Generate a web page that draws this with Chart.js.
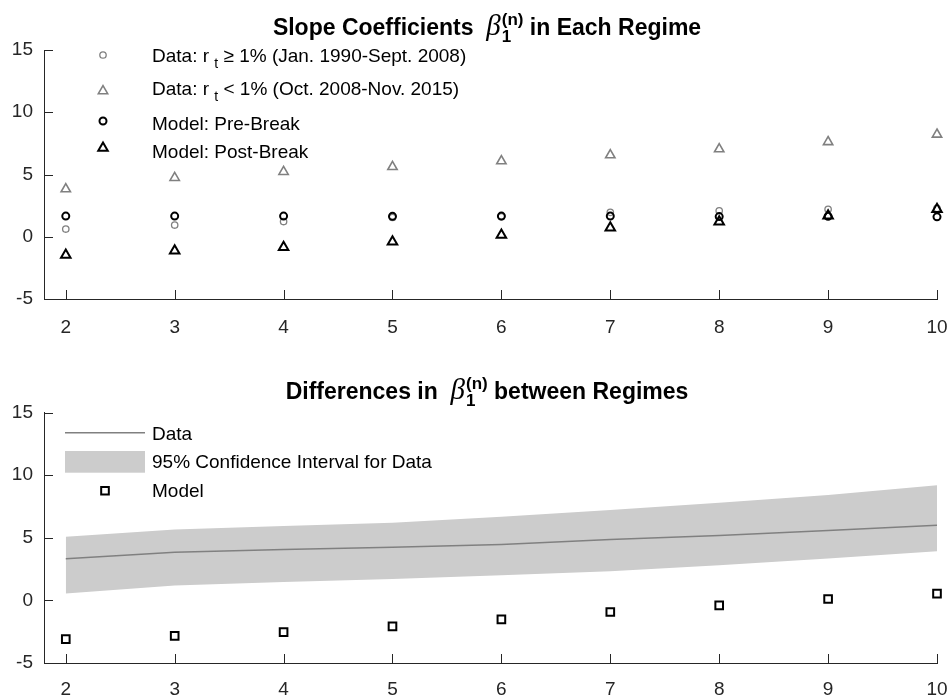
<!DOCTYPE html>
<html>
<head>
<meta charset="utf-8">
<script src="https://cdn.jsdelivr.net/npm/chart.js@4.4.1/dist/chart.umd.min.js"></script>
<style>
  html, body { margin: 0; padding: 0; background: #ffffff; }
  .panel { position: absolute; left: 0; width: 949px; height: 348px; }
</style>
</head>
<body>
<div class="panel" style="top:0"><canvas id="slopes" width="949" height="348"></canvas></div>
<div class="panel" style="top:348px"><canvas id="diffs" width="949" height="348"></canvas></div>
<script>
// Maturity n (years) on the x axis
const maturities = [2, 3, 4, 5, 6, 7, 8, 9, 10];
const xTickLabels = ['2', '3', '4', '5', '6', '7', '8', '9', '10'];
const yTickValues = [-5, 0, 5, 10, 15];
const yTickLabels = ['-5', '0', '5', '10', '15'];

// Slope coefficients by regime
const dataPreBreak   = [0.62, 0.94, 1.22, 1.55, 1.60, 1.96, 2.09, 2.20, 2.28];
const dataPostBreak  = [3.83, 4.74, 5.22, 5.62, 6.08, 6.56, 7.04, 7.62, 8.22];
const modelPreBreak  = [1.66, 1.66, 1.66, 1.64, 1.66, 1.66, 1.62, 1.64, 1.60];
const modelPostBreak = [-1.47, -1.12, -0.85, -0.40, 0.14, 0.72, 1.20, 1.69, 2.20];

// Differences between regimes
const diffData    = [3.32, 3.85, 4.06, 4.25, 4.47, 4.86, 5.18, 5.58, 6.00];
const diffCiLower = [0.54, 1.18, 1.47, 1.71, 2.00, 2.32, 2.80, 3.34, 3.93];
const diffCiUpper = [5.08, 5.66, 5.93, 6.20, 6.68, 7.21, 7.80, 8.41, 9.19];
const diffModel   = [-3.09, -2.83, -2.53, -2.08, -1.52, -0.93, -0.40, 0.11, 0.54];

const AXIS = '#262626';
const GRAY = '#808080';
const FONT = '"Liberation Sans", Arial, Helvetica, sans-serif';
const SERIF = '"Liberation Serif", "Times New Roman", serif';
const TEXT_SIZE = 19;

const pts = ys => maturities.map((x, i) => ({ x: x, y: ys[i] }));

// marker styles shared by the plot and the legend
const styles = {
  dataPre:   { pointStyle: 'circle',   radius: 3.2, color: GRAY,  width: 1.3 },
  dataPost:  { pointStyle: 'triangle', radius: 5.4, color: GRAY,  width: 1.6 },
  modelPre:  { pointStyle: 'circle',   radius: 3.5, color: '#000', width: 2 },
  modelPost: { pointStyle: 'triangle', radius: 5.5, color: '#000', width: 2 },
  modelDiff: { pointStyle: 'rect',     radius: 5.4, color: '#000', width: 2 }
};

function markerSet(label, ys, st, order) {
  return {
    label: label, data: pts(ys), showLine: false, order: order, clip: false,
    pointStyle: st.pointStyle, pointRadius: st.radius, pointBorderColor: st.color,
    pointBackgroundColor: 'rgba(0,0,0,0)', pointBorderWidth: st.width,
    borderColor: st.color, backgroundColor: 'rgba(0,0,0,0)'
  };
}

function drawMarker(ctx, st, x, y) {
  ctx.save();
  ctx.strokeStyle = st.color;
  ctx.lineWidth = st.width;
  ctx.beginPath();
  const r = st.radius;
  if (st.pointStyle === 'circle') {
    ctx.arc(x, y, r, 0, Math.PI * 2);
  } else if (st.pointStyle === 'triangle') {
    for (let k = 0; k < 3; k++) {
      const a = k * 2 * Math.PI / 3;
      const px = x + Math.sin(a) * r, py = y - Math.cos(a) * r;
      if (k === 0) ctx.moveTo(px, py); else ctx.lineTo(px, py);
    }
    ctx.closePath();
  } else {
    const s = r * Math.SQRT1_2;
    ctx.rect(x - s, y - s, 2 * s, 2 * s);
  }
  ctx.stroke();
  ctx.restore();
}

// Title with an italic beta carrying superscript (n) and subscript 1
function drawTitle(ctx, cx, baseline, lead, tail) {
  const fMain = 'bold 23px ' + FONT;
  const fBeta = 'italic 29px ' + SERIF;
  const fScript = 'bold 17px ' + FONT;
  ctx.save();
  ctx.fillStyle = '#000';
  ctx.textBaseline = 'alphabetic';
  ctx.textAlign = 'left';
  ctx.font = fMain;
  const wLead = ctx.measureText(lead).width;
  const wTail = ctx.measureText(tail).width;
  ctx.font = fBeta;
  const wBeta = ctx.measureText('\u03B2').width;
  ctx.font = fScript;
  const wSup = ctx.measureText('(n)').width;
  const total = wLead + wBeta + 1 + wSup + wTail;
  let x = cx - total / 2;
  ctx.font = fMain; ctx.fillText(lead, x, baseline); x += wLead;
  ctx.font = fBeta; ctx.fillText('\u03B2', x, baseline); x += wBeta + 1;
  ctx.font = fScript;
  ctx.fillText('(n)', x, baseline - 10);
  ctx.fillText('1', x, baseline + 7);
  x += wSup;
  ctx.font = fMain; ctx.fillText(tail, x, baseline);
  ctx.restore();
}

// Legend text with a subscripted t after r
function drawSubText(ctx, x, y, before, sub, after) {
  const f = TEXT_SIZE + 'px ' + FONT, fs = '14px ' + FONT;
  ctx.save();
  ctx.fillStyle = '#000';
  ctx.textBaseline = 'middle';
  ctx.textAlign = 'left';
  ctx.font = f; ctx.fillText(before, x, y); x += ctx.measureText(before).width;
  ctx.font = fs; ctx.fillText(sub, x, y + 7); x += ctx.measureText(sub).width;
  ctx.font = f; ctx.fillText(after, x, y);
  ctx.restore();
}

function drawText(ctx, x, y, text) {
  ctx.save();
  ctx.fillStyle = '#000';
  ctx.textBaseline = 'middle';
  ctx.textAlign = 'left';
  ctx.font = TEXT_SIZE + 'px ' + FONT;
  ctx.fillText(text, x, y);
  ctx.restore();
}

// Inward tick marks on both axes
const innerTicks = {
  id: 'innerTicks',
  afterDatasetsDraw(chart) {
    const ctx = chart.ctx, a = chart.chartArea;
    const xs = chart.scales.x, ys = chart.scales.y;
    ctx.save();
    ctx.strokeStyle = AXIS;
    ctx.lineWidth = 1;
    ctx.beginPath();
    xs.ticks.forEach(t => {
      const px = Math.round(xs.getPixelForValue(t.value)) + 0.5;
      ctx.moveTo(px, a.bottom); ctx.lineTo(px, a.bottom - 9);
    });
    ys.ticks.forEach(t => {
      const py = Math.round(ys.getPixelForValue(t.value)) + 0.5;
      ctx.moveTo(a.left, py); ctx.lineTo(a.left + 9, py);
    });
    ctx.stroke();
    ctx.restore();
  }
};

function axes(xHeight, xPad) {
  return {
    x: {
      type: 'linear', min: 1.8, max: 10,
      afterBuildTicks: s => { s.ticks = maturities.map(v => ({ value: v })); },
      afterFit: s => { s.height = xHeight; s.paddingLeft = 0; s.paddingRight = 0; },
      ticks: {
        callback: (v, i) => xTickLabels[i], color: AXIS, padding: xPad,
        font: { family: FONT, size: TEXT_SIZE }, maxRotation: 0, autoSkip: false
      },
      grid: { display: true, drawOnChartArea: false, drawTicks: false },
      border: { display: true, color: AXIS, width: 1 }
    },
    y: {
      type: 'linear', min: -5, max: 15,
      afterBuildTicks: s => { s.ticks = yTickValues.map(v => ({ value: v })); },
      afterFit: s => { s.width = 44; s.paddingTop = 0; s.paddingBottom = 0; },
      ticks: {
        callback: (v, i) => yTickLabels[i], color: AXIS, padding: 11,
        font: { family: FONT, size: TEXT_SIZE }
      },
      grid: { display: true, drawOnChartArea: false, drawTicks: false },
      border: { display: true, color: AXIS, width: 1 }
    }
  };
}

function baseOptions(padTop, xHeight, xPad) {
  return {
    responsive: false, animation: false, maintainAspectRatio: false,
    layout: { padding: { top: padTop, right: 12, left: 0, bottom: 0 } },
    plugins: { legend: { display: false }, tooltip: { enabled: false }, title: { display: false } },
    scales: axes(xHeight, xPad)
  };
}

// Upper panel: slope coefficients in each regime
const slopeOverlay = {
  id: 'slopeOverlay',
  afterDraw(chart) {
    const ctx = chart.ctx;
    drawTitle(ctx, 487, 35, 'Slope Coefficients  ', ' in Each Regime');
    drawMarker(ctx, styles.dataPre, 103, 55);
    drawSubText(ctx, 152, 57, 'Data: r ', 't', ' \u2265 1% (Jan. 1990-Sept. 2008)');
    drawMarker(ctx, styles.dataPost, 103, 91);
    drawSubText(ctx, 152, 90, 'Data: r ', 't', ' < 1% (Oct. 2008-Nov. 2015)');
    drawMarker(ctx, styles.modelPre, 103, 121);
    drawText(ctx, 152, 125, 'Model: Pre-Break');
    drawMarker(ctx, styles.modelPost, 103, 148);
    drawText(ctx, 152, 153, 'Model: Post-Break');
  }
};

new Chart(document.getElementById('slopes'), {
  type: 'line',
  data: {
    datasets: [
      markerSet('Model: Pre-Break', modelPreBreak, styles.modelPre, 1),
      markerSet('Model: Post-Break', modelPostBreak, styles.modelPost, 0),
      markerSet('Data: r_t >= 1%', dataPreBreak, styles.dataPre, 3),
      markerSet('Data: r_t < 1%', dataPostBreak, styles.dataPost, 2)
    ]
  },
  options: baseOptions(50, 49, 17),
  plugins: [innerTicks, slopeOverlay]
});

// Lower panel: differences between regimes
const diffOverlay = {
  id: 'diffOverlay',
  afterDraw(chart) {
    const ctx = chart.ctx;
    drawTitle(ctx, 487, 51, 'Differences in  ', ' between Regimes');
    ctx.save();
    ctx.strokeStyle = GRAY; ctx.lineWidth = 1.5;
    ctx.beginPath(); ctx.moveTo(65, 84.7); ctx.lineTo(145, 84.7); ctx.stroke();
    ctx.fillStyle = '#cccccc';
    ctx.fillRect(65, 103, 80, 21.7);
    ctx.restore();
    drawText(ctx, 152, 87, 'Data');
    drawText(ctx, 152, 115, '95% Confidence Interval for Data');
    drawMarker(ctx, styles.modelDiff, 105, 142.7);
    drawText(ctx, 152, 144, 'Model');
  }
};

new Chart(document.getElementById('diffs'), {
  type: 'line',
  data: {
    datasets: [
      { label: 'CI upper', data: pts(diffCiUpper), order: 3, fill: '+1',
        backgroundColor: '#cccccc', borderWidth: 0, borderColor: 'rgba(0,0,0,0)',
        pointRadius: 0, tension: 0 },
      { label: 'CI lower', data: pts(diffCiLower), order: 2, fill: false,
        borderWidth: 0, borderColor: 'rgba(0,0,0,0)', pointRadius: 0, tension: 0 },
      { label: 'Data', data: pts(diffData), order: 1, fill: false,
        borderColor: GRAY, borderWidth: 1.5, pointRadius: 0, tension: 0 },
      markerSet('Model', diffModel, styles.modelDiff, 0)
    ]
  },
  options: baseOptions(64.5, 33, 15),
  plugins: [innerTicks, diffOverlay]
});
</script>
</body>
</html>
